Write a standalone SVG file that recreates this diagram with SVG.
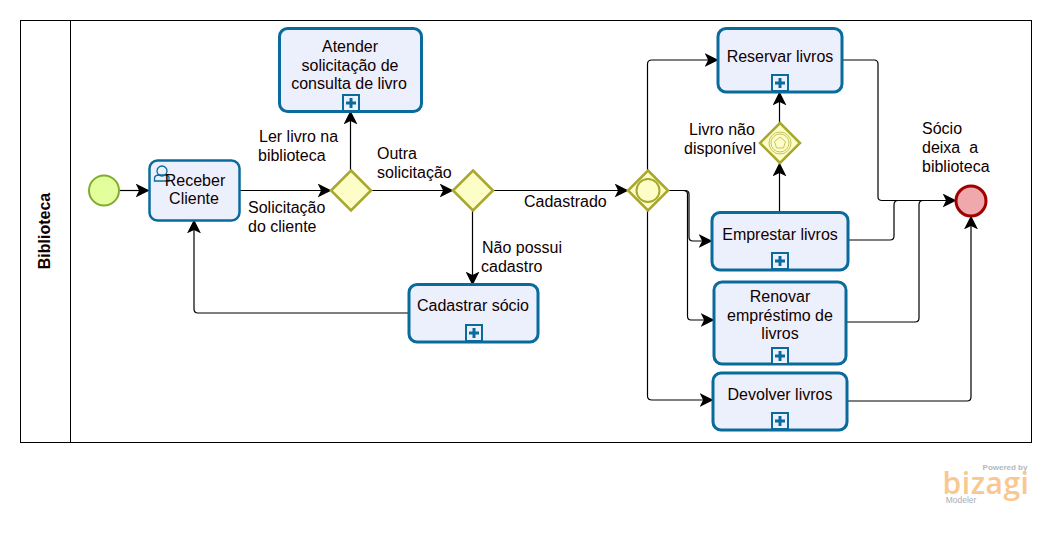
<svg xmlns="http://www.w3.org/2000/svg" width="1051" height="535" viewBox="0 0 1051 535">
<style>
text{font-family:"Liberation Sans",Arial,sans-serif;font-size:16px;fill:#100000;text-anchor:middle}
.l{text-anchor:start}
.task{fill:#ecf0fd;stroke:#0a6a9c;stroke-width:3}
.gw{fill:#fdfdc8;stroke:#a8a82c;stroke-width:2.5}
.c{fill:none;stroke:#000;stroke-width:1.2;marker-end:url(#arr)}
.n{fill:none;stroke:#000;stroke-width:1.2}
.pb{fill:#ecf0fd;stroke:#0a6a9c;stroke-width:2}
.pl{fill:none;stroke:#0a6a9c;stroke-width:3}
</style>
<defs>
<marker id="arr" viewBox="0 0 12 12" refX="11.500" refY="6" markerWidth="14" markerHeight="14" markerUnits="userSpaceOnUse" orient="auto"><path d="M0 0L12 6L0 12L3 6Z" fill="#000"/></marker>
<g id="plus"><rect x="-8" y="-8" width="16" height="16" class="pb"/><path d="M-5 0H5M0-5V5" class="pl"/></g>
</defs>
<rect width="1051" height="535" fill="#fff"/>
<g id="pool">
<rect x="20.500" y="20.500" width="1011" height="422" fill="#fff" stroke="#000" stroke-width="1"/>
<path d="M70.500 20.500V442.500" stroke="#000" fill="none"/>
<text transform="translate(50,231) rotate(-90)" style="font-weight:bold">Biblioteca</text>
</g>
<g id="connectors">
<path class="c" d="M119 190.500H149"/>
<path class="c" d="M240 190.500H331"/>
<path class="c" d="M350.500 170V111"/>
<path class="c" d="M371 190.500H453"/>
<path class="c" d="M493 190.500H628"/>
<path class="c" d="M472.500 210V285"/>
<path class="c" d="M409 313H198Q194 313 194 309V220"/>
<path class="c" d="M647.500 170V64Q647.500 60 652 60H718"/>
<path class="c" d="M668 190.500H685Q689 190.500 689 194V237Q689 241 693 241H712"/>
<path class="c" d="M668 190.500H683Q687.500 190.500 687.500 194V316Q687.500 320 691 320H714"/>
<path class="c" d="M647.500 210V396Q647.500 400 652 400H713"/>
<path class="c" d="M779.500 212V163"/>
<path class="c" d="M779.500 123V92"/>
<path class="c" d="M842 60H874Q878 60 878 64V197Q878 200.500 882 200.500H956"/>
<path class="n" d="M848 240H890Q894 240 894 236V205Q894 200.500 898 200.500H920"/>
<path class="n" d="M846 322H915Q919 322 919 318V205Q919 200.500 923 200.500H930"/>
<path class="c" d="M847 401H967Q971 401 971 397V216"/>
</g>
<g id="start"><circle cx="104" cy="190.500" r="15" fill="#e3ff9c" stroke="#7fac2e" stroke-width="2"/></g>
<g id="receber">
<rect class="task" x="149.500" y="160.500" width="90" height="60" rx="8" style="stroke-width:2.500"/>
<circle cx="162" cy="171" r="5" fill="none" stroke="#0a6a9c" stroke-width="1.300"/>
<path d="M154.500 181V178Q155 175 159 175H165Q169 175 169 178V181Z" fill="none" stroke="#0a6a9c" stroke-width="1.300"/>
<text x="195" y="186">Receber</text><text x="194" y="204">Cliente</text>
</g>
<g id="atender">
<rect class="task" x="279.500" y="28.500" width="142" height="83" rx="8"/>
<text x="350" y="52">Atender</text><text x="350" y="71">solicitação de</text><text x="349" y="89">consulta de livro</text>
<use href="#plus" x="351" y="103"/>
</g>
<g id="gw1"><path class="gw" d="M351 170.500L371 190.500L351 210.500L331 190.500Z"/></g>
<g id="gw2"><path class="gw" d="M473 170.500L493 190.500L473 210.500L453 190.500Z"/></g>
<g id="cadastrar">
<rect class="task" x="409" y="284.500" width="129" height="57.500" rx="8"/>
<text x="473" y="311">Cadastrar sócio</text>
<use href="#plus" x="474" y="333"/>
</g>
<g id="gw3"><path class="gw" d="M648 170.500L668 190.500L648 210.500L628 190.500Z"/><circle cx="648" cy="190.500" r="11.500" fill="none" stroke="#a8a82c" stroke-width="2"/></g>
<g id="gw4"><path class="gw" d="M780 123L800 143L780 163L760 143Z"/><circle cx="780" cy="143" r="11" fill="none" stroke="#c4c460" stroke-width="1"/><circle cx="780" cy="143" r="9" fill="none" stroke="#c4c460" stroke-width="1"/><path d="M780 137L785.500 141.500L783.500 148H776.500L774.500 141.500Z" fill="none" stroke="#c4c460" stroke-width="1"/></g>
<g id="reservar">
<rect class="task" x="718" y="28.500" width="124" height="63.500" rx="8"/>
<text x="780" y="62">Reservar livros</text>
<use href="#plus" x="780" y="83"/>
</g>
<g id="emprestar">
<rect class="task" x="712" y="212.500" width="136" height="57.500" rx="8"/>
<text x="780" y="240">Emprestar livros</text>
<use href="#plus" x="780" y="261"/>
</g>
<g id="renovar">
<rect class="task" x="714" y="282" width="132" height="82" rx="8"/>
<text x="780" y="302">Renovar</text><text x="780" y="321">empréstimo de</text><text x="780" y="339">livros</text>
<use href="#plus" x="780" y="356"/>
</g>
<g id="devolver">
<rect class="task" x="713" y="373" width="134" height="57" rx="8"/>
<text x="780" y="400">Devolver livros</text>
<use href="#plus" x="780" y="421"/>
</g>
<g id="end"><circle cx="971" cy="201" r="15" fill="#efa8ab" stroke="#a00000" stroke-width="3"/></g>
<g id="labels">
<text class="l" x="248" y="213">Solicitação</text><text class="l" x="248" y="232">do cliente</text>
<text class="l" x="259" y="142">Ler livro na</text><text class="l" x="258" y="161">biblioteca</text>
<text class="l" x="377" y="159">Outra</text><text class="l" x="377" y="178">solicitação</text>
<text class="l" x="524" y="207">Cadastrado</text>
<text class="l" x="482" y="253">Não possui</text><text class="l" x="481" y="272">cadastro</text>
<text class="l" x="689" y="135">Livro não</text><text class="l" x="684" y="154">disponível</text>
<text class="l" x="922" y="134">Sócio</text><text class="l" x="922" y="153" xml:space="preserve">deixa  a</text><text class="l" x="922" y="172">biblioteca</text>
</g>
<g id="logo">
<text x="1005" y="470" style="font-size:8px;font-weight:bold;fill:#b4b8bc">Powered by</text>
<text x="986" y="494" style="font-family:'Open Sans',sans-serif;font-size:30px;font-weight:600;fill:#f9c78f;letter-spacing:0.500px">bizagi</text>
<text x="961" y="503" style="font-size:8.500px;fill:#a8aeb2">Modeler</text>
</g>
</svg>
